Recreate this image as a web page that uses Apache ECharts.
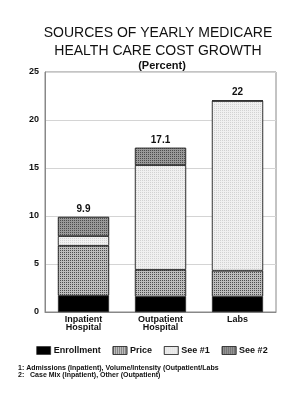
<!DOCTYPE html>
<html>
<head>
<meta charset="utf-8">
<script src="https://cdn.jsdelivr.net/npm/echarts@6/dist/echarts.min.js"></script>
<style>
  html, body { margin: 0; padding: 0; background: #fff; }
  #chart { width: 304px; height: 400px; }
</style>
</head>
<body>
<div id="chart"></div>
<script>
// data
const categories = ['Inpatient\nHospital', 'Outpatient\nHospital', 'Labs']
const enrollment = [1.7, 1.6, 1.6]
const price = [5.2, 2.8, 2.7]
const see1 = [1.0, 10.9, 17.7]
const see2 = [2.0, 1.8, 0]
const totals = ['9.9', '17.1', '22']
const yTicks = [0, 5, 10, 15, 20, 25]

const font = 'Liberation Sans, Arial, sans-serif'
const chart = echarts.init(document.getElementById('chart'))

// fine checker texture like the old printed hatching
function texture(color) {
  return { symbol: 'rect', symbolSize: 1, color: color, dashArrayX: [1, 1], dashArrayY: [1, 1], rotation: 0 }
}

function seg(name, data, color, decal) {
  const itemStyle = { color: color, borderColor: '#222', borderWidth: 0.6 }
  if (decal) itemStyle.decal = decal
  return {
    name: name,
    type: 'bar',
    stack: 'total',
    data: data,
    barWidth: 51,
    itemStyle: itemStyle
  }
}

const series = [
  seg('Enrollment', enrollment, '#000'),
  seg('Price', price, '#bdbdbd', texture('rgba(30,30,30,0.7)')),
  seg('See #1', see1, '#f0f0f0', texture('rgba(190,190,190,0.6)')),
  seg('See #2', see2, '#999', texture('rgba(0,0,0,0.5)'))
]
series[3].label = {
  show: true,
  position: 'top',
  distance: 3,
  formatter: p => totals[p.dataIndex],
  fontFamily: font,
  fontWeight: 'bold',
  fontSize: 10,
  color: '#111'
}

chart.setOption({
  animation: false,
  title: [
    {
      text: 'SOURCES OF YEARLY MEDICARE\nHEALTH CARE COST GROWTH',
      left: 153, top: 19, textAlign: 'center',
      textStyle: { fontFamily: font, fontWeight: 'normal', fontSize: 14, lineHeight: 18, color: '#111' }
    },
    {
      text: '(Percent)',
      left: 157, top: 55, textAlign: 'center',
      textStyle: { fontFamily: font, fontWeight: 'bold', fontSize: 11, color: '#111' }
    }
  ],
  grid: { left: 45, right: 28, top: 72, bottom: 88, show: true, borderColor: '#888', borderWidth: 1 },
  legend: {
    bottom: 40, left: 'center',
    icon: 'rect',
    itemWidth: 14, itemHeight: 8, itemGap: 12,
    textStyle: { fontFamily: font, fontWeight: 'bold', fontSize: 9, color: '#111', padding: [0, 0, 0, -2] },
    itemStyle: { borderColor: '#222', borderWidth: 0.6 },
    data: ['Enrollment', 'Price', 'See #1', 'See #2']
  },
  xAxis: {
    type: 'category',
    data: categories,
    axisLine: { lineStyle: { color: '#888' } },
    axisTick: { show: false },
    axisLabel: { fontFamily: font, fontWeight: 'bold', fontSize: 9, lineHeight: 8, color: '#111', margin: 4 }
  },
  yAxis: {
    type: 'value',
    min: yTicks[0], max: yTicks[yTicks.length - 1], interval: 5,
    axisLine: { show: true, lineStyle: { color: '#888' } },
    axisTick: { show: false },
    splitLine: { lineStyle: { color: '#d4d4d4' } },
    axisLabel: { fontFamily: font, fontWeight: 'bold', fontSize: 9, color: '#111', margin: 6 }
  },
  graphic: [
    {
      type: 'text', left: 18, top: 365,
      style: {
        text: '1: Admissions (Inpatient), Volume/Intensity (Outpatient/Labs\n2:   Case Mix (Inpatient), Other (Outpatient)',
        font: 'bold 7px ' + font, fill: '#111', lineHeight: 7
      }
    }
  ],
  series: series
})
</script>
</body>
</html>
